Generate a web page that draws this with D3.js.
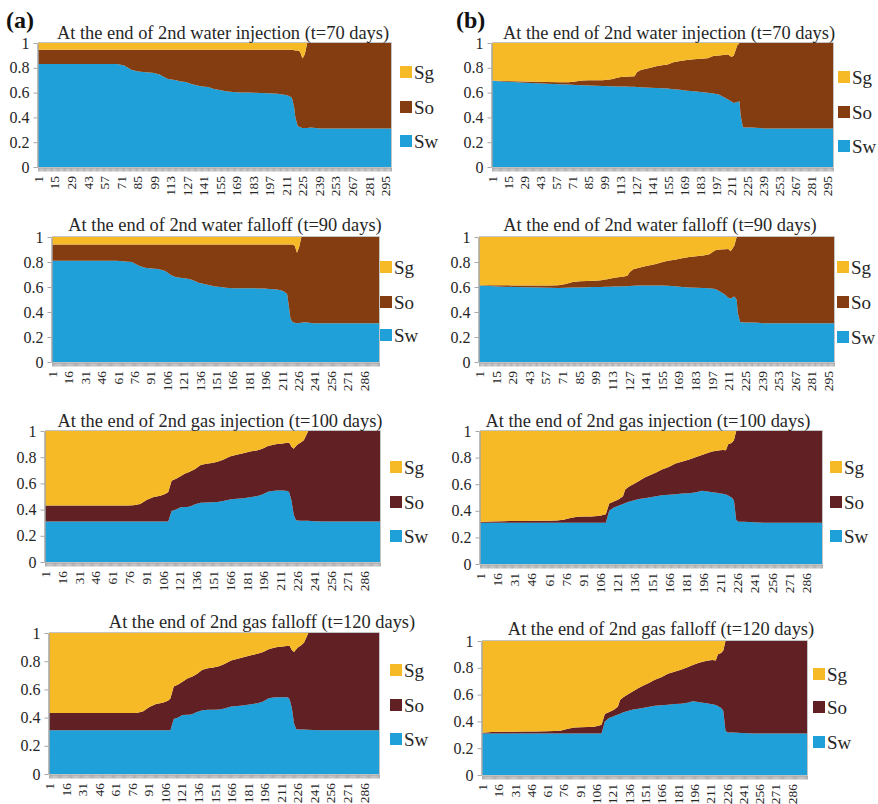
<!DOCTYPE html>
<html>
<head>
<meta charset="utf-8">
<script src="https://cdn.jsdelivr.net/npm/d3@7/dist/d3.min.js"></script>
<style>
  body { margin: 0; background: #fff; }
  svg { display: block; }
</style>
</head>
<body>
<svg id="chart" width="878" height="804"></svg>
<script>
// Grid-cell index along the profile (sampled cells, 300 cells in total)
const cells = [1,10,20,30,40,50,60,68,74,80,86,92,98,104,107,109,111,114,118,122,126,128,131,135,140,145,150,155,160,166,172,178,184,190,195,200,204,208,211,213,216,218,219,221,223,225,227,229,232,236,240,250,270,300];

// Category labels shown under the x axis
const xTicks14 = [1,15,29,43,57,71,85,99,113,127,141,155,169,183,197,211,225,239,253,267,281,295];
const xTicks15 = [1,16,31,46,61,76,91,106,121,136,151,166,181,196,211,226,241,256,271,286];
const yTicks = [0,0.2,0.4,0.6,0.8,1];

const titles = [
  "At the end of 2nd water injection (t=70 days)",
  "At the end of 2nd water falloff (t=90 days)",
  "At the end of 2nd gas injection (t=100 days)",
  "At the end of 2nd gas falloff (t=120 days)"
];

// ---- case (a) ----
const swA1 = [0.83,0.83,0.83,0.83,0.83,0.83,0.83,0.83, 0.818,0.785,0.77,0.765,0.76,0.745, 0.73,0.72,0.71,0.705,0.70,0.69,0.685,0.68, 0.67,0.66,0.65,0.645,0.63,0.62,0.61,0.605, 0.60,0.60,0.598,0.597,0.595,0.592,0.59,0.585, 0.58,0.575,0.56,0.48,0.40,0.33,0.32,0.315, 0.315,0.315,0.318,0.315,0.31,0.31,0.31,0.31];
const soA1 = [0.115,0.115,0.115,0.115,0.115,0.115,0.115,0.115, 0.127,0.16,0.175,0.18,0.185,0.2, 0.215,0.225,0.235,0.24,0.245,0.255,0.26,0.265, 0.275,0.285,0.295,0.30,0.315,0.325,0.335,0.34, 0.345,0.345,0.347,0.348,0.35,0.353,0.355,0.36, 0.365,0.37,0.385,0.462,0.54,0.61,0.61,0.56, 0.595,0.685,0.682,0.685,0.69,0.69,0.69,0.69];
const sgA1 = [0.055,0.055,0.055,0.055,0.055,0.055,0.055,0.055, 0.055,0.055,0.055,0.055,0.055,0.055, 0.055,0.055,0.055,0.055,0.055,0.055,0.055,0.055, 0.055,0.055,0.055,0.055,0.055,0.055,0.055,0.055, 0.055,0.055,0.055,0.055,0.055,0.055,0.055,0.055, 0.055,0.055,0.055,0.058,0.06,0.06,0.07,0.125, 0.09,0,0,0,0,0,0,0];

const swA2 = [0.81,0.81,0.81,0.81,0.81,0.81,0.81,0.805, 0.80,0.772,0.755,0.748,0.745,0.73, 0.715,0.70,0.69,0.68,0.675,0.67,0.665,0.66, 0.65,0.635,0.625,0.615,0.605,0.60,0.595,0.59, 0.59,0.59,0.59,0.589,0.588,0.585,0.582,0.578, 0.572,0.565,0.545,0.42,0.35,0.318,0.315,0.31, 0.312,0.315,0.318,0.315,0.31,0.31,0.31,0.31];
const soA2 = [0.13,0.13,0.13,0.13,0.13,0.13,0.13,0.135, 0.14,0.168,0.185,0.192,0.195,0.21, 0.225,0.24,0.25,0.26,0.265,0.27,0.275,0.28, 0.29,0.305,0.315,0.325,0.335,0.34,0.345,0.35, 0.35,0.35,0.35,0.351,0.352,0.355,0.358,0.362, 0.368,0.375,0.395,0.52,0.59,0.622,0.615,0.565, 0.608,0.685,0.682,0.685,0.69,0.69,0.69,0.69];
const sgA2 = [0.06,0.06,0.06,0.06,0.06,0.06,0.06,0.06, 0.06,0.06,0.06,0.06,0.06,0.06, 0.06,0.06,0.06,0.06,0.06,0.06,0.06,0.06, 0.06,0.06,0.06,0.06,0.06,0.06,0.06,0.06, 0.06,0.06,0.06,0.06,0.06,0.06,0.06,0.06, 0.06,0.06,0.06,0.06,0.06,0.06,0.07,0.125, 0.08,0,0,0,0,0,0,0];

const swA3 = [0.31,0.31,0.31,0.31,0.31,0.31,0.31,0.31, 0.31,0.31,0.31,0.31,0.31,0.31, 0.31,0.31,0.31,0.39,0.40,0.418,0.42,0.42, 0.425,0.44,0.453,0.455,0.456,0.458,0.465,0.478, 0.482,0.487,0.495,0.502,0.515,0.537,0.542,0.545, 0.545,0.545,0.544,0.54,0.53,0.47,0.36,0.318, 0.316,0.315,0.315,0.314,0.312,0.31,0.31,0.31];
const soA3 = [0.122,0.122,0.122,0.122,0.122,0.122,0.122,0.122, 0.122,0.123,0.133,0.165,0.187,0.195, 0.205,0.212,0.225,0.23,0.235,0.237,0.255,0.262, 0.267,0.27,0.287,0.295,0.299,0.307,0.315,0.327, 0.336,0.343,0.348,0.35,0.35,0.348,0.351,0.355, 0.358,0.36,0.364,0.37,0.38,0.41,0.505,0.567, 0.584,0.595,0.615,0.686,0.688,0.69,0.69,0.69];
const sgA3 = [0.568,0.568,0.568,0.568,0.568,0.568,0.568,0.568, 0.568,0.567,0.557,0.525,0.503,0.495, 0.485,0.478,0.465,0.38,0.365,0.345,0.325,0.318, 0.308,0.29,0.26,0.25,0.245,0.235,0.22,0.195, 0.182,0.17,0.157,0.148,0.135,0.115,0.107,0.10, 0.097,0.095,0.092,0.09,0.09,0.12,0.135,0.115, 0.10,0.09,0.07,0,0,0,0,0];

const swA4 = [0.31,0.31,0.31,0.31,0.31,0.31,0.31,0.31, 0.31,0.31,0.31,0.31,0.31,0.31, 0.31,0.31,0.31,0.39,0.40,0.418,0.42,0.42, 0.425,0.44,0.453,0.455,0.456,0.458,0.465,0.478, 0.482,0.487,0.495,0.502,0.515,0.537,0.542,0.545, 0.545,0.545,0.544,0.54,0.53,0.47,0.36,0.318, 0.316,0.315,0.315,0.314,0.312,0.31,0.31,0.31];
const soA4 = [0.122,0.122,0.122,0.122,0.122,0.122,0.122,0.122, 0.122,0.123,0.133,0.165,0.187,0.195, 0.205,0.212,0.225,0.23,0.235,0.237,0.255,0.262, 0.267,0.27,0.287,0.295,0.299,0.307,0.315,0.327, 0.336,0.343,0.348,0.35,0.35,0.348,0.351,0.355, 0.358,0.36,0.364,0.37,0.38,0.41,0.505,0.567, 0.584,0.595,0.615,0.686,0.688,0.69,0.69,0.69];
const sgA4 = [0.568,0.568,0.568,0.568,0.568,0.568,0.568,0.568, 0.568,0.567,0.557,0.525,0.503,0.495, 0.485,0.478,0.465,0.38,0.365,0.345,0.325,0.318, 0.308,0.29,0.26,0.25,0.245,0.235,0.22,0.195, 0.182,0.17,0.157,0.148,0.135,0.115,0.107,0.10, 0.097,0.095,0.092,0.09,0.09,0.12,0.135,0.115, 0.10,0.09,0.07,0,0,0,0,0];

// ---- case (b) ----
const swB1 = [0.695,0.69,0.685,0.68,0.676,0.672,0.668,0.665, 0.662,0.66,0.658,0.655,0.653,0.652, 0.651,0.65,0.65,0.65,0.649,0.648,0.647,0.645, 0.643,0.641,0.64,0.638,0.636,0.633,0.628,0.622, 0.615,0.61,0.604,0.598,0.592,0.585,0.565,0.545, 0.528,0.516,0.525,0.53,0.42,0.32,0.318,0.318, 0.318,0.318,0.317,0.315,0.31,0.31,0.31,0.31];
const soB1 = [0.002,0.004,0.007,0.01,0.012,0.014,0.016,0.018, 0.028,0.038,0.042,0.045,0.047,0.053, 0.059,0.065,0.07,0.075,0.079,0.082,0.085,0.12, 0.137,0.149,0.16,0.174,0.184,0.193,0.217,0.233, 0.247,0.258,0.268,0.28,0.303,0.315,0.338,0.362, 0.36,0.384,0.455,0.47,0.58,0.68,0.682,0.682, 0.682,0.682,0.683,0.685,0.69,0.69,0.69,0.69];
const sgB1 = [0.303,0.306,0.308,0.31,0.312,0.314,0.316,0.317, 0.31,0.302,0.30,0.30,0.30,0.295, 0.29,0.285,0.28,0.275,0.272,0.27,0.268,0.235, 0.22,0.21,0.20,0.188,0.18,0.174,0.155,0.145, 0.138,0.132,0.128,0.122,0.105,0.10,0.097,0.093, 0.112,0.10,0.02,0,0,0,0,0, 0,0,0,0,0,0,0,0];

const swB2 = [0.613,0.608,0.603,0.60,0.598,0.597,0.595,0.593, 0.594,0.596,0.597,0.598,0.60,0.601, 0.602,0.602,0.603,0.604,0.605,0.606,0.607,0.608, 0.61,0.612,0.613,0.613,0.613,0.613,0.611,0.607, 0.60,0.597,0.595,0.592,0.59,0.585,0.565,0.54, 0.515,0.508,0.525,0.50,0.39,0.318,0.318,0.317, 0.317,0.316,0.316,0.315,0.31,0.31,0.31,0.31];
const soB2 = [0.002,0.007,0.011,0.013,0.014,0.015,0.018,0.022, 0.031,0.044,0.05,0.05,0.05,0.054, 0.058,0.06,0.064,0.068,0.073,0.077,0.083,0.112, 0.132,0.14,0.152,0.162,0.172,0.185,0.199,0.211, 0.23,0.243,0.252,0.261,0.272,0.31,0.335,0.362, 0.39,0.378,0.405,0.50,0.61,0.682,0.682,0.683, 0.683,0.684,0.684,0.685,0.69,0.69,0.69,0.69];
const sgB2 = [0.385,0.385,0.386,0.387,0.388,0.388,0.387,0.385, 0.375,0.36,0.353,0.352,0.35,0.345, 0.34,0.338,0.333,0.328,0.322,0.317,0.31,0.28, 0.258,0.248,0.235,0.225,0.215,0.202,0.19,0.182, 0.17,0.16,0.153,0.147,0.138,0.105,0.10,0.098, 0.095,0.114,0.07,0,0,0,0,0, 0,0,0,0,0,0,0,0];

const swB3 = [0.31,0.31,0.31,0.31,0.31,0.31,0.31,0.31, 0.31,0.31,0.31,0.31,0.31,0.31, 0.31,0.31,0.31,0.40,0.425,0.438,0.452,0.458, 0.468,0.478,0.488,0.495,0.502,0.51,0.516,0.52, 0.525,0.53,0.532,0.54,0.55,0.545,0.54,0.535, 0.53,0.528,0.523,0.515,0.51,0.50,0.48,0.33, 0.318,0.318,0.317,0.316,0.313,0.31,0.31,0.31];
const soB3 = [0.005,0.01,0.012,0.013,0.014,0.015,0.016,0.018, 0.023,0.035,0.045,0.047,0.048,0.05, 0.055,0.06,0.065,0.055,0.045,0.047,0.058,0.102, 0.112,0.122,0.137,0.155,0.168,0.178,0.194,0.21, 0.23,0.24,0.253,0.265,0.27,0.29,0.305,0.317, 0.326,0.33,0.332,0.385,0.395,0.41,0.45,0.67, 0.682,0.682,0.683,0.684,0.687,0.69,0.69,0.69];
const sgB3 = [0.685,0.68,0.678,0.677,0.676,0.675,0.674,0.672, 0.667,0.655,0.645,0.643,0.642,0.64, 0.635,0.63,0.625,0.545,0.53,0.515,0.49,0.44, 0.42,0.40,0.375,0.35,0.33,0.312,0.29,0.27, 0.245,0.23,0.215,0.195,0.18,0.165,0.155,0.148, 0.144,0.142,0.145,0.10,0.095,0.09,0.07,0, 0,0,0,0,0,0,0,0];

const swB4 = [0.31,0.31,0.31,0.31,0.31,0.31,0.31,0.31, 0.31,0.31,0.31,0.31,0.31,0.31, 0.31,0.31,0.31,0.40,0.425,0.438,0.452,0.458, 0.468,0.478,0.488,0.495,0.502,0.51,0.516,0.52, 0.525,0.53,0.532,0.54,0.55,0.545,0.54,0.535, 0.53,0.528,0.523,0.515,0.51,0.50,0.48,0.33, 0.318,0.318,0.317,0.316,0.313,0.31,0.31,0.31];
const soB4 = [0.005,0.01,0.012,0.013,0.014,0.015,0.016,0.018, 0.023,0.035,0.045,0.047,0.048,0.05, 0.055,0.06,0.065,0.055,0.045,0.047,0.058,0.102, 0.112,0.122,0.137,0.155,0.168,0.178,0.194,0.21, 0.23,0.24,0.253,0.265,0.27,0.29,0.305,0.317, 0.326,0.33,0.332,0.385,0.395,0.41,0.45,0.67, 0.682,0.682,0.683,0.684,0.687,0.69,0.69,0.69];
const sgB4 = [0.685,0.68,0.678,0.677,0.676,0.675,0.674,0.672, 0.667,0.655,0.645,0.643,0.642,0.64, 0.635,0.63,0.625,0.545,0.53,0.515,0.49,0.44, 0.42,0.40,0.375,0.35,0.33,0.312,0.29,0.27, 0.245,0.23,0.215,0.195,0.18,0.165,0.155,0.148, 0.144,0.142,0.145,0.10,0.095,0.09,0.07,0, 0,0,0,0,0,0,0,0];

// ---- styling ----
const SERIF = "'Liberation Serif','Times New Roman',Times,serif";
const BLUE = "#1fa0d8";
const YELLOW = "#f7ba27";
const BROWN = "#843d11";
const MAROON = "#612023";
const AXIS = "#a6a6a6";
const TEXT = "#262626";

// Panel layout: plot box [left, right, top, bottom], title centre/baseline, legend x + row centres
const panels = [
  { sw: swA1, so: soA1, sg: sgA1, title: titles[0], ticks: xTicks14, oil: BROWN,
    box: [38, 391, 43, 167], titleAt: [223, 39], legend: [400, 72, 107, 141] },
  { sw: swB1, so: soB1, sg: sgB1, title: titles[0], ticks: xTicks14, oil: BROWN,
    box: [492, 833, 43, 167], titleAt: [669, 39], legend: [838, 77, 112, 146] },
  { sw: swA2, so: soA2, sg: sgA2, title: titles[1], ticks: xTicks15, oil: BROWN,
    box: [52, 379, 237, 362], titleAt: [225, 231], legend: [380, 267, 302, 335] },
  { sw: swB2, so: soB2, sg: sgB2, title: titles[1], ticks: xTicks14, oil: BROWN,
    box: [479, 834, 237, 362], titleAt: [660, 231], legend: [837, 267, 302, 337] },
  { sw: swA3, so: soA3, sg: sgA3, title: titles[2], ticks: xTicks15, oil: MAROON,
    box: [45, 380, 431, 562], titleAt: [220, 427], legend: [390, 467, 502, 536] },
  { sw: swB3, so: soB3, sg: sgB3, title: titles[2], ticks: xTicks15, oil: MAROON,
    box: [480, 822, 431, 564], titleAt: [648, 427], legend: [830, 467, 502, 536] },
  { sw: swA4, so: soA4, sg: sgA4, title: titles[3], ticks: xTicks15, oil: MAROON,
    box: [49, 379, 633, 774], titleAt: [262, 628], legend: [390, 670, 705, 739] },
  { sw: swB4, so: soB4, sg: sgB4, title: titles[3], ticks: xTicks15, oil: MAROON,
    box: [482, 807, 641, 775], titleAt: [661, 635], legend: [813, 674, 707, 742] }
];

const svg = d3.select("#chart");
const allCells = d3.range(1, 301);

panels.forEach(p => {
  const [left, right, top, bottom] = p.box;
  const x = d3.scaleLinear().domain([1, 300]).range([left, right]);
  const y = d3.scaleLinear().domain([0, 1]).range([bottom, top]).clamp(true);
  const color = { Sw: BLUE, So: p.oil, Sg: YELLOW };

  const rows = cells.map((c, i) => ({ cell: c, Sw: p.sw[i], So: p.so[i], Sg: p.sg[i] }));
  const series = d3.stack().keys(["Sw", "So", "Sg"])(rows);

  const g = svg.append("g");

  const area = d3.area()
    .x(d => x(d.data.cell))
    .y0(d => y(d[0]))
    .y1(d => y(d[1]));

  g.selectAll("path.layer")
    .data(series)
    .join("path")
    .attr("class", "layer")
    .attr("fill", s => color[s.key])
    .attr("d", area);

  // plot-area frame (top and right edges)
  g.append("path")
    .attr("d", `M${left},${top - 0.5}H${right + 0.5}V${bottom}`)
    .attr("fill", "none")
    .attr("stroke", "#c4c4c4").attr("stroke-width", 1);

  // value axis
  const ya = g.append("g")
    .attr("transform", `translate(${left - 0.5},0)`)
    .call(d3.axisLeft(y).tickValues(yTicks).tickSize(4).tickSizeOuter(0).tickPadding(4).tickFormat(d => String(d)));
  ya.select(".domain").attr("stroke", AXIS).attr("stroke-width", 1.5);
  ya.selectAll(".tick line").attr("stroke", AXIS);
  ya.selectAll(".tick text")
    .attr("font-family", SERIF).attr("font-size", 16).attr("fill", TEXT);

  // category axis: one tick per grid cell
  const xa = g.append("g")
    .attr("transform", `translate(0,${bottom + 0.5})`)
    .call(d3.axisBottom(x).tickValues(allCells).tickSize(4).tickSizeOuter(0).tickFormat(""));
  xa.select(".domain").attr("stroke", AXIS);
  xa.selectAll(".tick line").attr("stroke", AXIS).attr("stroke-width", 0.9);

  // category labels, rotated to read upward
  const xl = g.append("g")
    .attr("transform", `translate(0,${bottom})`)
    .call(d3.axisBottom(x).tickValues(p.ticks).tickSize(0).tickPadding(0));
  xl.select(".domain").remove();
  xl.selectAll(".tick text")
    .attr("transform", "rotate(-90)")
    .attr("text-anchor", "end")
    .attr("x", -9)
    .attr("y", 0)
    .attr("dy", "0.33em")
    .attr("font-family", SERIF).attr("font-size", 13.5).attr("fill", TEXT);

  // title
  g.append("text")
    .attr("x", p.titleAt[0]).attr("y", p.titleAt[1])
    .attr("text-anchor", "middle")
    .attr("font-family", SERIF).attr("font-size", 18.4).attr("fill", TEXT)
    .text(p.title);

  // legend
  const [lx, ...ly] = p.legend;
  const items = ["Sg", "So", "Sw"];
  items.forEach((k, i) => {
    g.append("rect")
      .attr("x", lx).attr("y", ly[i] - 6)
      .attr("width", 12).attr("height", 12)
      .attr("fill", color[k]);
    g.append("text")
      .attr("x", lx + 14).attr("y", ly[i])
      .attr("dy", "0.35em")
      .attr("font-family", SERIF).attr("font-size", 19).attr("fill", TEXT)
      .text(k);
  });
});

// case tags
svg.append("text").attr("x", 6).attr("y", 28)
  .attr("font-family", SERIF).attr("font-size", 24).attr("font-weight", "bold").attr("fill", "#111")
  .text("(a)");
svg.append("text").attr("x", 456).attr("y", 28)
  .attr("font-family", SERIF).attr("font-size", 24).attr("font-weight", "bold").attr("fill", "#111")
  .text("(b)");
</script>
</body>
</html>
